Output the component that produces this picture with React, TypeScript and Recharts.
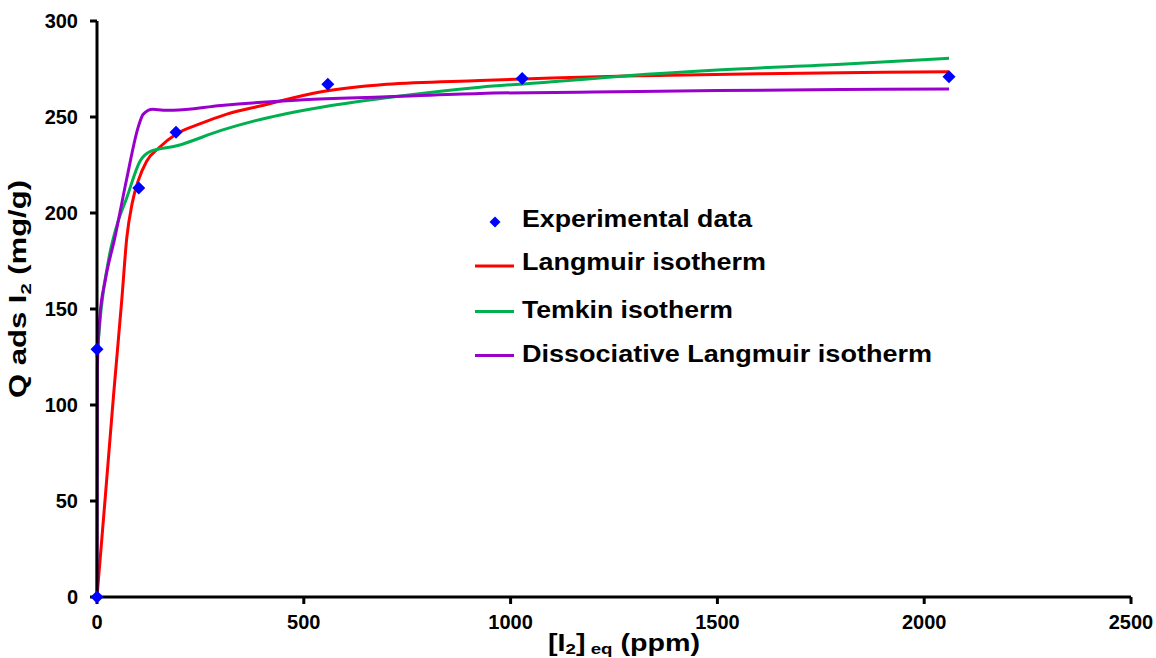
import React from 'react';
import { ComposedChart, Line, Scatter, XAxis, YAxis, Legend, Label } from 'recharts';

// axis ticks
const xTicks = [0, 500, 1000, 1500, 2000, 2500];
const yTicks = [0, 50, 100, 150, 200, 250, 300];

// experimental points
const expX = [0, 0, 101, 191, 558, 1028, 2060];
const expY = [0, 129, 213, 242, 267, 270, 271];

// Langmuir fit
const langX = [0, 20, 40, 60, 72, 85, 100, 120, 150, 191, 250, 314, 400, 539, 700, 926, 1100, 1281, 1600, 1800, 2060];
const langY = [0, 52, 105, 155, 187, 205, 217, 227, 234, 241, 246.5, 251.5, 256, 263, 267, 269, 270.3, 271.3, 272.5, 273, 273.6];

// Temkin fit (green)
const temX = [0, 10, 31, 50, 72, 104, 128, 193, 300, 400, 539, 700, 926, 1100, 1281, 1500, 1800, 2060];
const temY = [125, 150, 179, 195, 208, 227, 232, 235, 243, 249, 255, 260, 265.5, 268.3, 271.5, 274.5, 277.5, 280.6];

// Dissociative Langmuir fit (purple)
const disX = [0, 1, 7, 20, 43, 72, 100, 112, 135, 160, 184, 300, 500, 700, 926, 1200, 1500, 1800, 2060];
const disY = [0, 120, 146, 165, 187, 218, 245, 251.5, 254, 253.5, 253.5, 256, 259, 260.5, 262.3, 263, 263.8, 264.3, 264.6];

const toPoints = (xs: number[], ys: number[]) => xs.map((x, i) => ({ x, y: ys[i] }));

const experimental = toPoints(expX, expY);
const langmuir = toPoints(langX, langY);
const temkin = toPoints(temX, temY);
const dissociative = toPoints(disX, disY);

const FONT = '"Liberation Sans", Arial, sans-serif';

const Diamond = (props: any) => {
  const { cx, cy } = props;
  const r = 6.5;
  return <path d={`M${cx},${cy - r}L${cx + r},${cy}L${cx},${cy + r}L${cx - r},${cy}Z`} fill="#0000ff" />;
};

const XTitle = () => (
  <text
    x={624}
    y={651}
    textAnchor="middle"
    textLength={152}
    lengthAdjust="spacingAndGlyphs"
    fontFamily={FONT}
    fontWeight="bold"
    fontSize={23}
    fill="#000"
  >
    [I<tspan fontSize={15} dy={3}>2</tspan>
    <tspan dy={-3}>]</tspan>
    <tspan fontSize={15} dy={3}> eq</tspan>
    <tspan dy={-3}> (ppm)</tspan>
  </text>
);

const YTitle = () => (
  <text
    x={26}
    y={289}
    transform="rotate(-90, 26, 289)"
    textAnchor="middle"
    textLength={218}
    lengthAdjust="spacingAndGlyphs"
    fontFamily={FONT}
    fontWeight="bold"
    fontSize={23}
    fill="#000"
  >
    Q ads I<tspan fontSize={15} dy={5}>2</tspan>
    <tspan dy={-5}> (mg/g)</tspan>
  </text>
);

const legendItems = [
  { name: 'Experimental data', color: '#0000ff', kind: 'diamond', base: 32, mark: 27, len: 230 },
  { name: 'Langmuir isotherm', color: '#ff0000', kind: 'line', base: 75, mark: 71, len: 244 },
  { name: 'Temkin isotherm', color: '#00b050', kind: 'line', base: 123, mark: 116.5, len: 211 },
  { name: 'Dissociative Langmuir isotherm', color: '#9900cc', kind: 'line', base: 167, mark: 160.5, len: 410 },
];

const LegendBox = () => (
  <svg width={500} height={180}>
    {legendItems.map((it) => (
      <g key={it.name}>
        {it.kind === 'diamond' ? (
          <path d={`M25,${it.mark - 5.5}L30.5,${it.mark}L25,${it.mark + 5.5}L19.5,${it.mark}Z`} fill={it.color} />
        ) : (
          <line x1={5} x2={44} y1={it.mark} y2={it.mark} stroke={it.color} strokeWidth={3} />
        )}
        <text
          x={52}
          y={it.base}
          textLength={it.len}
          lengthAdjust="spacingAndGlyphs"
          fontFamily={FONT}
          fontWeight="bold"
          fontSize={23}
          fill="#000"
        >
          {it.name}
        </text>
      </g>
    ))}
  </svg>
);

export default function App() {
  return (
    <div style={{ position: 'absolute', left: 0, top: 0, background: '#fff' }}>
      <ComposedChart width={1156} height={658} margin={{ top: 21, right: 25, left: 0, bottom: 0 }}>
        <XAxis
          dataKey="x"
          type="number"
          domain={[0, 2500]}
          ticks={xTicks}
          height={61}
          axisLine={{ stroke: '#000', strokeWidth: 3 }}
          tickLine={{ stroke: '#000', strokeWidth: 3 }}
          tickSize={7}
          tickMargin={11}
          tick={{ fill: '#000', fontFamily: FONT, fontWeight: 'bold', fontSize: 20 }}
        >
          <Label content={<XTitle />} />
        </XAxis>
        <YAxis
          type="number"
          domain={[0, 300]}
          ticks={yTicks}
          width={97}
          axisLine={{ stroke: '#000', strokeWidth: 3 }}
          tickLine={{ stroke: '#000', strokeWidth: 3 }}
          tickSize={7}
          tickMargin={12}
          tick={{ fill: '#000', fontFamily: FONT, fontWeight: 'bold', fontSize: 20 }}
        >
          <Label content={<YTitle />} />
        </YAxis>
        <Legend
          layout="vertical"
          align="center"
          verticalAlign="middle"
          content={<LegendBox />}
          wrapperStyle={{ left: 470, top: 195, width: 500, height: 180 }}
        />
        <Line data={langmuir} dataKey="y" name="Langmuir isotherm" type="monotone" stroke="#ff0000" strokeWidth={3} dot={false} activeDot={false} isAnimationActive={false} />
        <Line data={temkin} dataKey="y" name="Temkin isotherm" type="monotone" stroke="#00b050" strokeWidth={3} dot={false} activeDot={false} isAnimationActive={false} />
        <Line data={dissociative} dataKey="y" name="Dissociative Langmuir isotherm" type="monotone" stroke="#9900cc" strokeWidth={3} dot={false} activeDot={false} isAnimationActive={false} />
        <Scatter data={experimental} dataKey="y" name="Experimental data" fill="#0000ff" shape={<Diamond />} isAnimationActive={false} />
      </ComposedChart>
    </div>
  );
}
